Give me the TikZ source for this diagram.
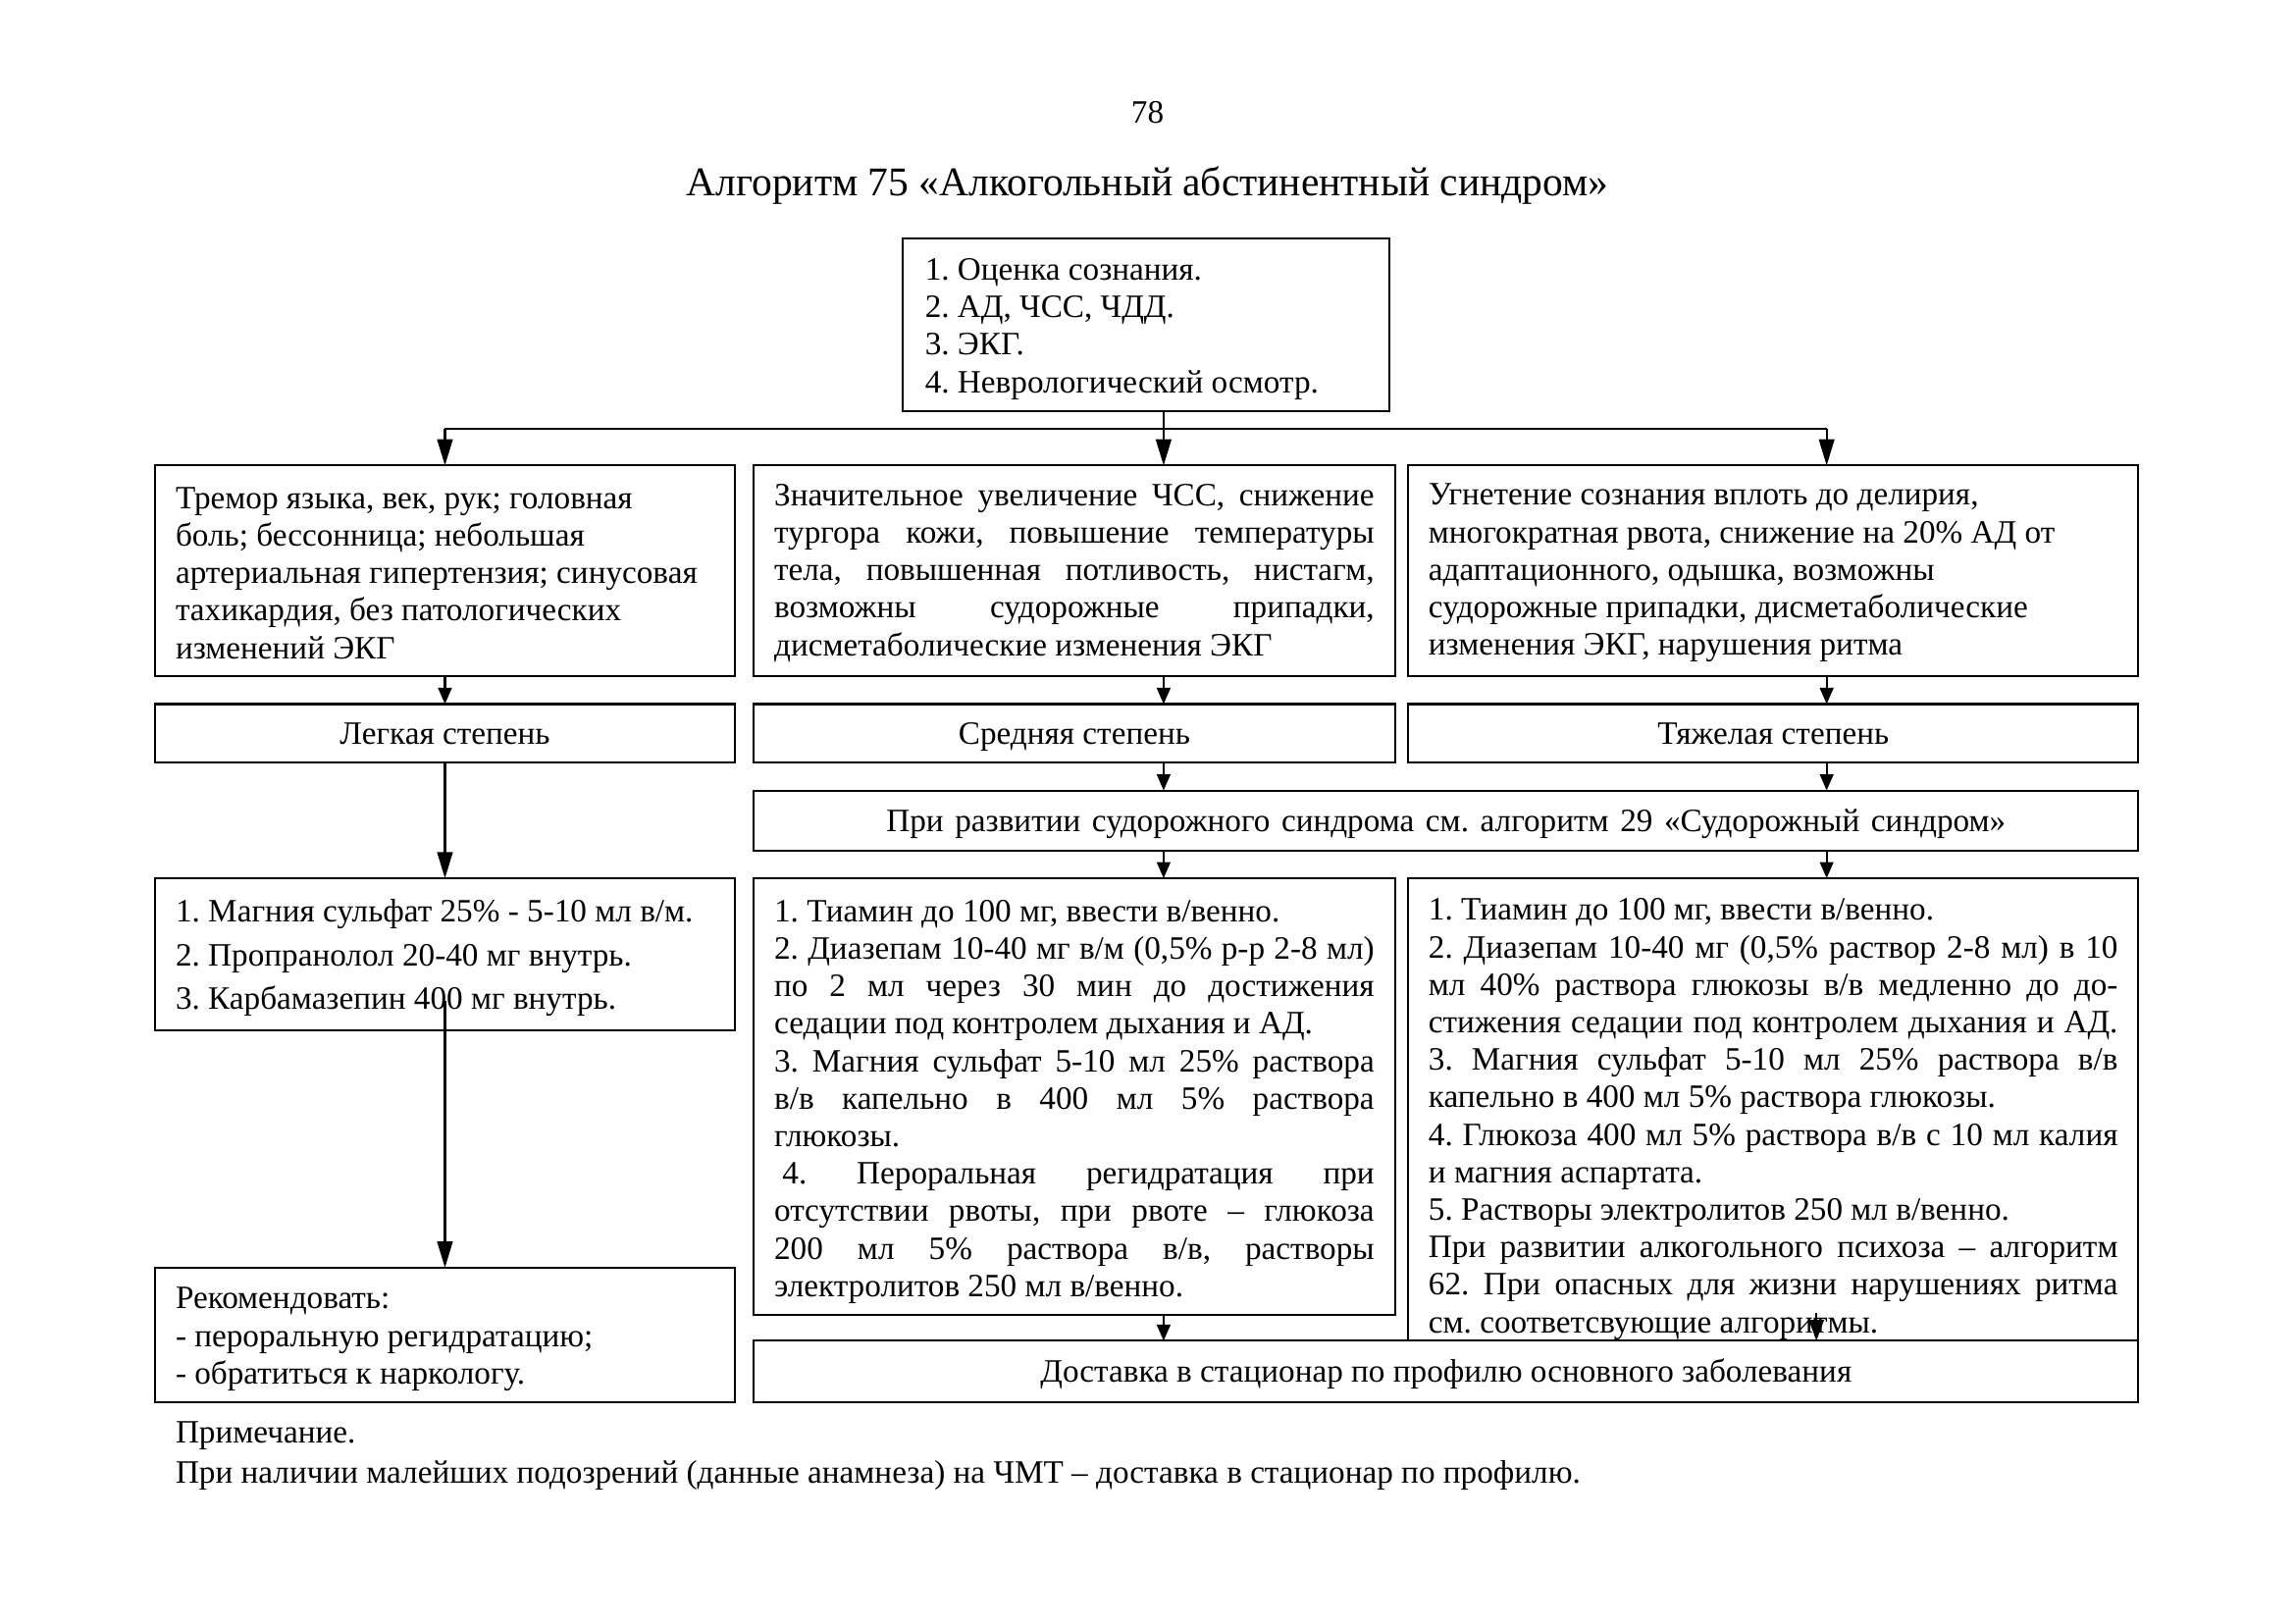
\documentclass[tikz,border=0pt]{standalone}
\usepackage{fontspec}
\setmainfont{Liberation Serif}
\usetikzlibrary{arrows.meta}
\frenchspacing
% one drawing unit
\def\pxu{0.18941mm}
% plain interword spaces of the font (with stretch and shrink)
\newcommand\fontspaces{\spaceskip=0pt\relax\xspaceskip=0pt\relax}
% a line stretched to the full text width
\newcommand\jl[1]{{\fontspaces\makebox[\hsize][s]{#1}}}
% font spaces plus extra room above the first line of a box
\newcommand\topgap[1]{\fontspaces\rule{0pt}{#1}}

\begin{document}
\begin{tikzpicture}[x=0.18941mm, y=-0.18941mm,
  txt/.style={font=\fontsize{12}{13.8}\selectfont, inner sep=0pt, outer sep=0pt},
  box/.style={txt, draw, line width=0.75pt, anchor=north west, inner xsep=14*\pxu},
  wL/.style={minimum width=396*\pxu},
  wM/.style={minimum width=438*\pxu},
  wR/.style={minimum width=499*\pxu},
  wW/.style={minimum width=946*\pxu},
  tL/.style={wL, text width=368*\pxu, align=left},
  tM/.style={wM, text width=410*\pxu, align=left},
  tR/.style={wR, text width=471*\pxu, align=left},
  one/.style={align=center, text height=10pt, text depth=2pt},
  ln/.style={line width=0.75pt},
  arrL/.style={ln, -{Triangle[length=3.4mm, width=2mm]}},
  arrS/.style={ln, -{Triangle[length=2.1mm, width=1.75mm]}},
  arrM/.style={ln, -{Triangle[length=2.7mm, width=1.9mm]}},
]
\fill[white] (0,0) rectangle (1568,1109);

% heading
\node[txt, anchor=base] (pagenum) at (784,84) {78};
\node[txt, font=\fontsize{15}{17}\selectfont, anchor=base] (title) at (784,134)
  {Алгоритм 75 «Алкогольный абстинентный синдром»};

% initial assessment
\node[box, minimum width=332*\pxu, text width=302*\pxu, inner xsep=15*\pxu,
      minimum height=118*\pxu, align=left] (assess) at (617,163)
  {\topgap{11pt}1. Оценка сознания.\\2. АД, ЧСС, ЧДД.\\3. ЭКГ.\\4. Неврологический осмотр.};

% clinical signs
\node[box, tL, minimum height=144*\pxu] (signsL) at (106,318)
  {\topgap{9.5pt}Тремор языка, век, рук; головная\\
   боль; бессонница; небольшая\\
   артериальная гипертензия; синусовая\\
   тахикардия, без патологических\\
   изменений ЭКГ};
\node[box, tM, minimum height=144*\pxu] (signsM) at (515,318)
  {\topgap{9.5pt}\jl{Значительное увеличение ЧСС, снижение}\\
   \jl{тургора кожи, повышение температуры}\\
   \jl{тела, повышенная потливость, нистагм,}\\
   \jl{возможны судорожные припадки,}\\
   дисметаболические изменения ЭКГ};
\node[box, tR, minimum height=144*\pxu] (signsR) at (962,318)
  {\topgap{9.5pt}Угнетение сознания вплоть до делирия,\\
   многократная рвота, снижение на 20\% АД от\\
   адаптационного, одышка, возможны\\
   судорожные припадки, дисметаболические\\
   изменения ЭКГ, нарушения ритма};

% severity
\node[box, wL, one, minimum height=40*\pxu] (degL) at (106,481) {Легкая степень};
\node[box, wM, one, minimum height=40*\pxu] (degM) at (515,481) {Средняя степень};
\node[box, wR, one, minimum height=40*\pxu] (degR) at (962,481) {Тяжелая степень};

% seizure note
\node[box, wW, one, minimum height=41*\pxu] (seiz) at (515,540)
  {\spaceskip=.35em\relax При развитии судорожного синдрома см. алгоритм 29 «Судорожный синдром»};

% treatment
\node[box, tL, minimum height=104*\pxu] (treatL) at (106,600)
  {\topgap{11pt}\mbox{1. Магния сульфат 25\% - 5-10 мл в/м.}\\[2.3pt]
   2. Пропранолол 20-40 мг внутрь.\\[2.3pt]
   3. Карбамазепин 400 мг внутрь.};
\node[box, tM, minimum height=298*\pxu] (treatM) at (515,600)
  {\topgap{12pt}1. Тиамин до 100 мг, ввести в/венно.\\
   \jl{2. Диазепам 10-40 мг в/м (0,5\% р-р 2-8 мл)}\\
   \jl{по 2 мл через 30 мин до достижения}\\
   седации под контролем дыхания и АД.\\
   \jl{3. Магния сульфат 5-10 мл 25\% раствора}\\
   \jl{в/в капельно в 400 мл 5\% раствора}\\
   глюкозы.\\
   \jl{\hspace{0.25em}4. Пероральная регидратация при}\\
   \jl{отсутствии рвоты, при рвоте – глюкоза}\\
   \jl{200 мл 5\% раствора в/в, растворы}\\
   электролитов 250 мл в/венно.};
\node[box, tR, minimum height=316*\pxu] (treatR) at (962,600)
  {\topgap{15pt}1. Тиамин до 100 мг, ввести в/венно.\\
   \jl{2. Диазепам 10-40 мг (0,5\% раствор 2-8 мл) в 10}\\
   \jl{мл 40\% раствора глюкозы в/в медленно до до-}\\
   \jl{стижения седации под контролем дыхания и АД.}\\
   \jl{3. Магния сульфат 5-10 мл 25\% раствора в/в}\\
   капельно в 400 мл 5\% раствора глюкозы.\\
   \jl{4. Глюкоза 400 мл 5\% раствора в/в с 10 мл калия}\\
   и магния аспартата.\\
   5. Растворы электролитов 250 мл в/венно.\\
   \jl{При развитии алкогольного психоза – алгоритм}\\
   \jl{62. При опасных для жизни нарушениях ритма}\\
   см. соответсвующие алгоритмы.};

% outcome
\node[box, tL, minimum height=92*\pxu] (rec) at (106,866)
  {\topgap{11pt}Рекомендовать:\\- пероральную регидратацию;\\- обратиться к наркологу.};
\node[box, wW, one, minimum height=42*\pxu] (deliv) at (515,916)
  {Доставка в стационар по профилю основного заболевания};

% footnote
\node[txt, anchor=base west] (note1) at (120,986) {Примечание.};
\node[txt, anchor=base west] (note2) at (120,1013)
  {При наличии малейших подозрений (данные анамнеза) на ЧМТ – доставка в стационар по профилю.};

% connector columns
\coordinate (xL) at (304,0);
\coordinate (xM) at (795,0);
\coordinate (xR) at (1248,0);
\coordinate (xR2) at (1241,0);
\coordinate (bus) at (795,293);
\coordinate (lstart) at (304,684);
\coordinate (rstart) at (1241,897);

\draw[arrL] (xM |- assess.south) -- (xM |- signsM.north);
\draw[ln] (xL |- bus) -- (xR |- bus);
\draw[arrL] (xL |- bus) -- (signsL.north);
\draw[arrL] (xR |- bus) -- (xR |- signsR.north);

\draw[arrS] (signsL.south) -- (degL.north);
\draw[arrS] (xM |- signsM.south) -- (xM |- degM.north);
\draw[arrS] (xR |- signsR.south) -- (xR |- degR.north);

\draw[arrL] (degL.south) -- (treatL.north);
\draw[arrS] (xM |- degM.south) -- (xM |- seiz.north);
\draw[arrS] (xR |- degR.south) -- (xR |- seiz.north);
\draw[arrS] (xM |- seiz.south) -- (xM |- treatM.north);
\draw[arrS] (xR |- seiz.south) -- (xR |- treatR.north);

\draw[arrL] (lstart) -- (rec.north);
\draw[arrS] (xM |- treatM.south) -- (xM |- deliv.north);
\draw[arrM] (rstart) -- (xR2 |- deliv.north);
\end{tikzpicture}
\end{document}
